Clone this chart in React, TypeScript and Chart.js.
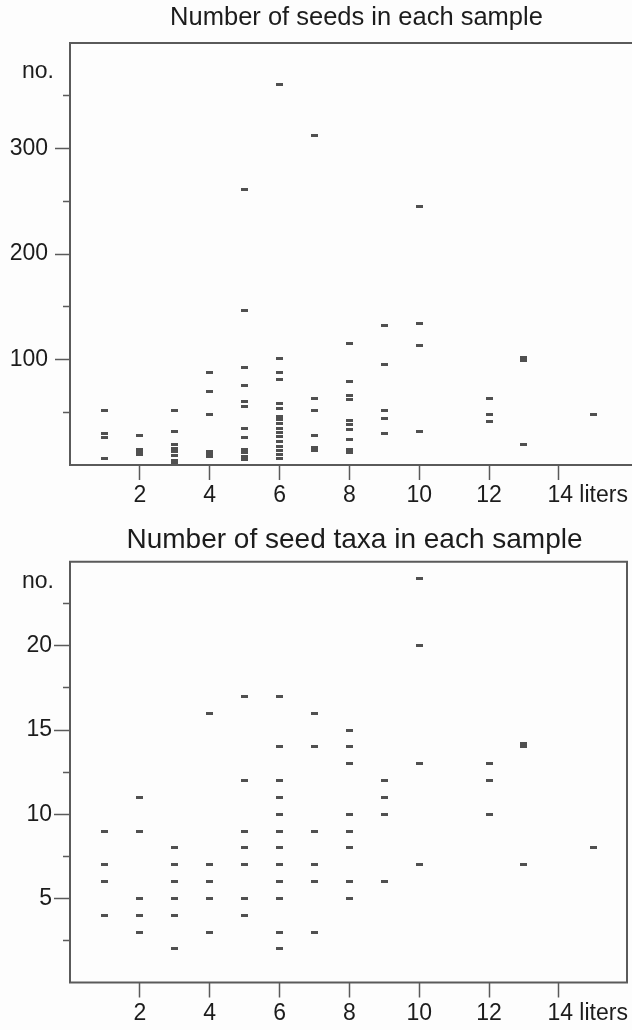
import React, { useEffect, useRef } from 'react';
import { Chart, registerables } from 'chart.js';

Chart.register(...registerables);

// ---------- data ----------
const xTickValues = [2, 4, 6, 8, 10, 12, 14];
const xTickLabels = ['2', '4', '6', '8', '10', '12', '         14 liters'];

const sampleLiters = [1, 2, 3, 4, 5, 6, 7, 8, 9, 10, 12, 13, 15];

const seedCounts = [
  [52, 30, 26, 6],
  [28, 15, 12, 10],
  [52, 32, 19, 16, 13, 9, 4, 2],
  [88, 70, 48, 13, 10, 8],
  [261, 146, 92, 75, 60, 55, 35, 26, 15, 12, 8, 5],
  [361, 101, 88, 81, 58, 54, 46, 43, 39, 35, 31, 27, 22, 18, 14, 10, 6],
  [312, 63, 52, 28, 17, 14],
  [115, 79, 66, 62, 42, 38, 34, 24, 15, 12],
  [132, 95, 52, 44, 30],
  [245, 134, 113, 32],
  [63, 48, 41],
  [102, 100, 99, 19],
  [48],
];

const taxaCounts = [
  [9, 7, 6, 4],
  [11, 9, 5, 4, 3],
  [8, 7, 6, 5, 4, 2],
  [16, 7, 6, 5, 3],
  [17, 12, 9, 8, 7, 5, 4],
  [17, 14, 12, 11, 10, 9, 8, 7, 6, 5, 3, 2],
  [16, 14, 9, 7, 6, 3],
  [15, 14, 13, 10, 9, 8, 6, 5],
  [12, 11, 10, 6],
  [24, 20, 13, 7],
  [13, 12, 10],
  [14.2, 14, 7],
  [8],
];

const seedYTicks = [50, 100, 150, 200, 250, 300, 350];
const seedYLabels = ['', '100', '', '200', '', '300', ''];
const seedYMajor = [100, 200, 300];

const taxaYTicks = [2.5, 5, 7.5, 10, 12.5, 15, 17.5, 20, 22.5];
const taxaYLabels = ['', '5', '', '10', '', '15', '', '20', ''];
const taxaYMajor = [5, 10, 15, 20];

const seedTitle = 'Number of seeds in each sample';
const taxaTitle = 'Number of seed taxa in each sample';
const yUnitLabel = 'no.';

// ---------- styling ----------
const FONT = '"Liberation Sans", Arial, Helvetica, sans-serif';
const TEXT = '#1c1c1c';
const AXIS = '#5a5a5a';
const MARK = '#505050';

function makeMark(): HTMLCanvasElement {
  const c = document.createElement('canvas');
  c.width = 7;
  c.height = 3;
  const g = c.getContext('2d')!;
  g.fillStyle = MARK;
  g.fillRect(0, 0, 7, 3);
  return c;
}

interface PanelOpts {
  values: number[][];
  yMax: number;
  yTicks: number[];
  yLabels: string[];
  yMajor: number[];
  top: number;
  xAxisHeight: number;
  title: string;
  titleSize: number;
  titleY: number;
  titleShift: number;
  unitY: number;
  yLabelPad: number;
  majorLen: number;
  rightBorder: boolean;
}

function buildConfig(o: PanelOpts, mark: HTMLCanvasElement): any {
  const points: { x: number; y: number }[] = [];
  sampleLiters.forEach((l, i) => {
    o.values[i].forEach((v) => points.push({ x: l, y: v }));
  });

  const framePlugin = {
    id: 'frameAndText',
    afterDraw(chart: any) {
      const { ctx, chartArea } = chart;
      const { left, right, top, bottom } = chartArea;
      ctx.save();
      ctx.strokeStyle = AXIS;
      ctx.lineWidth = 2;
      ctx.beginPath();
      if (o.rightBorder) {
        ctx.rect(left, top, right - left, bottom - top);
      } else {
        ctx.moveTo(chart.width, top);
        ctx.lineTo(left, top);
        ctx.lineTo(left, bottom);
        ctx.lineTo(chart.width, bottom);
      }
      ctx.stroke();
      ctx.fillStyle = TEXT;
      ctx.textBaseline = 'middle';
      ctx.textAlign = 'center';
      ctx.font = `${o.titleSize}px ${FONT}`;
      const cx = (left + right) / 2 + o.titleShift;
      ctx.fillText(o.title, cx, o.titleY);
      ctx.textAlign = 'right';
      ctx.font = `23px ${FONT}`;
      ctx.fillText(yUnitLabel, left - 16, o.unitY);
      ctx.restore();
    },
  };

  const gap = o.majorLen - 7;

  return {
    type: 'scatter',
    data: {
      datasets: [
        {
          data: points,
          pointStyle: mark,
          pointRadius: 4,
          pointHoverRadius: 4,
          backgroundColor: MARK,
          borderColor: MARK,
        },
      ],
    },
    options: {
      animation: false,
      responsive: false,
      events: [],
      layout: { padding: { top: o.top, right: 0.5, left: 0, bottom: 0 } },
      plugins: {
        legend: { display: false },
        tooltip: { enabled: false },
        title: { display: false },
      },
      scales: {
        x: {
          type: 'linear',
          min: 0,
          max: 15.95,
          position: 'bottom',
          afterBuildTicks: (s: any) => {
            s.ticks = xTickValues.map((v) => ({ value: v }));
          },
          afterFit: (s: any) => {
            s.height = o.xAxisHeight;
            s.paddingLeft = 0;
            s.paddingRight = 0;
          },
          border: { display: false },
          grid: {
            drawOnChartArea: false,
            drawTicks: true,
            tickLength: 15,
            tickColor: AXIS,
            tickWidth: 1.5,
          },
          ticks: {
            autoSkip: false,
            maxRotation: 0,
            minRotation: 0,
            padding: 2,
            color: TEXT,
            font: { family: FONT, size: 23 },
            callback: (_v: any, i: number) => xTickLabels[i],
          },
        },
        y: {
          type: 'linear',
          min: 0,
          max: o.yMax,
          position: 'left',
          afterBuildTicks: (s: any) => {
            s.ticks = o.yTicks.map((v) => ({ value: v }));
          },
          afterFit: (s: any) => {
            s.width = 70;
            s.paddingTop = 0;
            s.paddingBottom = 0;
          },
          border: { display: false },
          grid: {
            drawOnChartArea: false,
            drawTicks: true,
            tickLength: o.majorLen,
            tickColor: AXIS,
            tickWidth: 1.5,
            tickBorderDash: (ctx: any) => {
              const t = ctx.tick;
              if (!t) return [];
              return o.yMajor.includes(t.value) ? [] : [0, gap, 7, 200];
            },
          },
          ticks: {
            autoSkip: false,
            padding: o.yLabelPad,
            color: TEXT,
            font: { family: FONT, size: 23 },
            callback: (_v: any, i: number) => o.yLabels[i],
          },
        },
      },
    },
    plugins: [framePlugin],
  };
}

function Panel({ opts, top }: { opts: PanelOpts; top: number }) {
  const ref = useRef<HTMLCanvasElement | null>(null);
  useEffect(() => {
    if (!ref.current) return;
    const chart = new Chart(ref.current, buildConfig(opts, makeMark()));
    return () => chart.destroy();
  }, []);
  return (
    <canvas
      ref={ref}
      width={632}
      height={515}
      style={{ position: 'absolute', left: 0, top, width: 632, height: 515 }}
    />
  );
}

export default function App() {
  const seedOpts: PanelOpts = {
    values: seedCounts,
    yMax: 400,
    yTicks: seedYTicks,
    yLabels: seedYLabels,
    yMajor: seedYMajor,
    top: 43,
    xAxisHeight: 50,
    title: seedTitle,
    titleSize: 25.5,
    titleY: 18,
    titleShift: 8,
    unitY: 72,
    yLabelPad: 7,
    majorLen: 15,
    rightBorder: false,
  };
  const taxaOpts: PanelOpts = {
    values: taxaCounts,
    yMax: 25,
    yTicks: taxaYTicks,
    yLabels: taxaYLabels,
    yMajor: taxaYMajor,
    top: 46.7,
    xAxisHeight: 47.5,
    title: taxaTitle,
    titleSize: 28,
    titleY: 25,
    titleShift: 6,
    unitY: 67,
    yLabelPad: 2,
    majorLen: 16,
    rightBorder: true,
  };
  return (
    <div
      style={{
        position: 'absolute',
        left: 0,
        top: 0,
        width: 632,
        height: 1030,
        background: '#fdfdfd',
        overflow: 'hidden',
      }}
    >
      <Panel opts={seedOpts} top={0} />
      <Panel opts={taxaOpts} top={515} />
    </div>
  );
}
